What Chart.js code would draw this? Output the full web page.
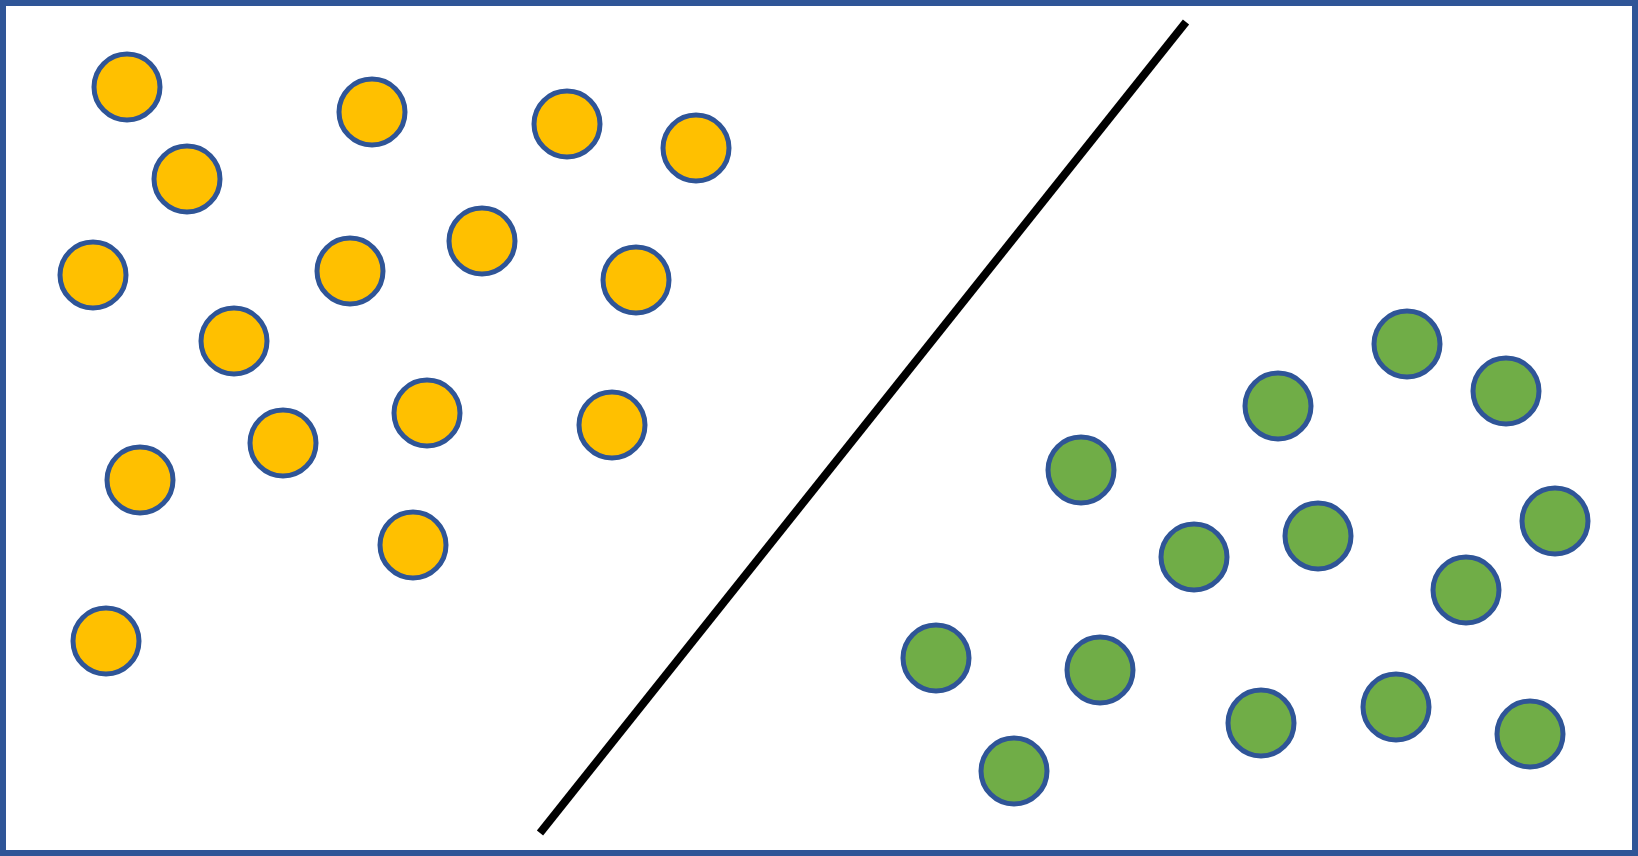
<!DOCTYPE html>
<html>
<head>
<meta charset="utf-8">
<script src="https://cdn.jsdelivr.net/npm/chart.js@4/dist/chart.umd.min.js"></script>
<style>
html,body{margin:0;padding:0;background:#fff;overflow:hidden;}
#wrap{width:1638px;height:856px;position:relative;}
</style>
</head>
<body>
<div id="wrap"><canvas id="c" width="1638" height="856"></canvas></div>
<script>
// Class A (yellow) points
const yellowX = [127, 187, 372, 567, 696, 93, 350, 482, 636, 234, 427, 612, 283, 140, 413, 106];
const yellowY = [87, 179, 112, 124, 148, 275, 271, 241, 280, 341, 413, 425, 443, 480, 545, 641];
// Class B (green) points
const greenX = [1407, 1506, 1278, 1081, 1194, 1318, 1555, 1466, 936, 1100, 1261, 1396, 1530, 1014];
const greenY = [344, 391, 406, 470, 557, 536, 521, 590, 658, 670, 723, 707, 734, 771];
// Separating line endpoints
const lineX = [540, 1186];
const lineY = [833, 22];

const toPts = (xs, ys) => xs.map((x, i) => ({x: x, y: ys[i]}));

const frame = {
  id: 'frame',
  afterDraw(chart) {
    const ctx = chart.ctx;
    ctx.save();
    ctx.strokeStyle = '#2F5597';
    ctx.lineWidth = 6;
    ctx.strokeRect(3, 3, chart.width - 6, chart.height - 6);
    ctx.restore();
  }
};

new Chart(document.getElementById('c'), {
  type: 'scatter',
  data: {
    datasets: [
      {
        type: 'line',
        data: toPts(lineX, lineY),
        borderColor: '#000000',
        borderWidth: 8,
        borderCapStyle: 'butt',
        pointRadius: 0,
        fill: false,
        clip: false
      },
      {
        data: toPts(yellowX, yellowY),
        backgroundColor: '#FFC000',
        borderColor: '#2F5597',
        borderWidth: 5,
        pointRadius: 33,
        pointHoverRadius: 33,
        clip: false
      },
      {
        data: toPts(greenX, greenY),
        backgroundColor: '#70AD47',
        borderColor: '#2F5597',
        borderWidth: 5,
        pointRadius: 33,
        pointHoverRadius: 33,
        clip: false
      }
    ]
  },
  options: {
    responsive: false,
    animation: false,
    layout: {padding: 0, autoPadding: false},
    plugins: {legend: {display: false}, tooltip: {enabled: false}},
    scales: {
      x: {type: 'linear', min: 0, max: 1638, display: false},
      y: {type: 'linear', min: 0, max: 856, reverse: true, display: false}
    }
  },
  plugins: [frame]
});
</script>
</body>
</html>
